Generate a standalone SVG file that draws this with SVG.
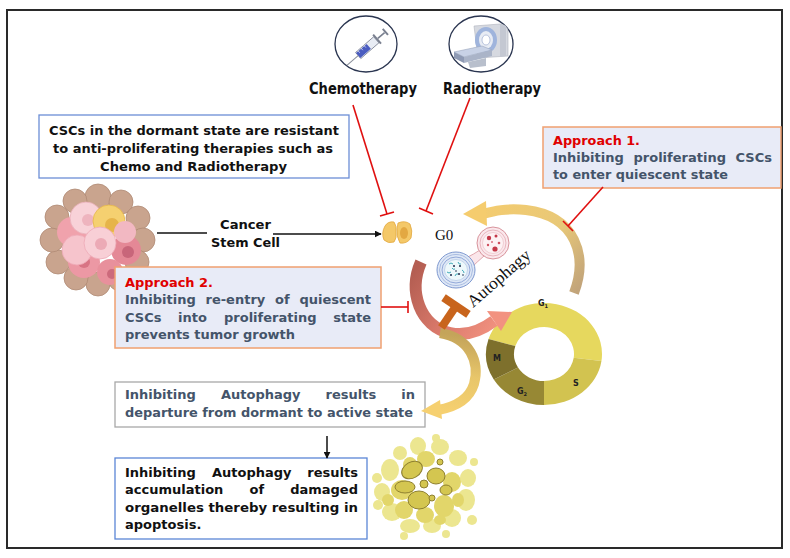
<svg xmlns="http://www.w3.org/2000/svg" width="790" height="558" viewBox="0 0 790 558">
<defs>
<style>
.t{font-family:"DejaVu Sans","Liberation Sans",sans-serif;font-weight:bold;font-size:13px;}
.blk{fill:#111;}
.gry{fill:#44546a;}
.red{fill:#e00000;}
.big{font-size:15px;}
.ser{font-family:"Liberation Serif","DejaVu Serif",serif;fill:#111;}
.inh{stroke:#e01010;stroke-width:1.6;fill:none;}
.appr{fill:#e8ebf7;stroke:#f0a070;stroke-width:1.5;}
.tan{fill:#c9a48e;stroke:#b08a75;stroke-width:0.8;}
.ap1{fill:#ece690;}
.ap2{fill:#e2d66a;}
.ap3{fill:#d4c650;stroke:#8e8030;stroke-width:1;}
.lbl{font-family:"DejaVu Sans","Liberation Sans",sans-serif;font-weight:bold;font-size:8px;fill:#222;}
</style>
<marker id="ah" viewBox="0 0 10 10" refX="9" refY="5" markerWidth="7" markerHeight="7" orient="auto-start-reverse" markerUnits="userSpaceOnUse">
<path d="M0,0 L10,5 L0,10 Z" fill="#111"/>
</marker>
<linearGradient id="gY" gradientUnits="userSpaceOnUse" x1="574" y1="295" x2="470" y2="212">
<stop offset="0" stop-color="#c2a47a"/><stop offset="0.4" stop-color="#e8c878"/><stop offset="1" stop-color="#f5cc6e"/>
</linearGradient>
<linearGradient id="gR" gradientUnits="userSpaceOnUse" x1="420" y1="262" x2="505" y2="318">
<stop offset="0" stop-color="#b45e52"/><stop offset="0.5" stop-color="#d8786a"/><stop offset="1" stop-color="#f29280"/>
</linearGradient>
<linearGradient id="gT" gradientUnits="userSpaceOnUse" x1="442" y1="333" x2="430" y2="410">
<stop offset="0" stop-color="#c4a45a"/><stop offset="0.5" stop-color="#e8c66a"/><stop offset="1" stop-color="#f6d070"/>
</linearGradient>
</defs>
<rect x="0" y="0" width="790" height="558" fill="#ffffff"/>
<rect x="7" y="10" width="775" height="538" fill="none" stroke="#2a2a2a" stroke-width="2"/>

<!-- Chemotherapy icon -->
<g id="chemotherapy">
<ellipse cx="366" cy="44" rx="31" ry="28" fill="#fff" stroke="#2a3550" stroke-width="1.3"/>
<g transform="translate(368,47) rotate(-41)">
<line x1="-28" y1="0" x2="-13" y2="0" stroke="#8a8f9a" stroke-width="1"/>
<rect x="-13" y="-4" width="24" height="8" fill="#e8ecf4" stroke="#7a8090" stroke-width="0.8"/>
<rect x="-13" y="-3.2" width="14" height="6.4" fill="#4a5cc0"/>
<line x1="-10" y1="-4" x2="-10" y2="-1" stroke="#fff" stroke-width="0.6"/>
<line x1="-6" y1="-4" x2="-6" y2="-1" stroke="#fff" stroke-width="0.6"/>
<line x1="-2" y1="-4" x2="-2" y2="-1" stroke="#fff" stroke-width="0.6"/>
<rect x="11" y="-6" width="2" height="12" fill="#7a8090"/>
<line x1="13" y1="0" x2="22" y2="0" stroke="#7a8090" stroke-width="1.6"/>
<rect x="22" y="-4" width="2" height="8" fill="#7a8090"/>
</g>
</g>

<!-- Radiotherapy icon -->
<g id="radiotherapy">
<ellipse cx="481" cy="44" rx="32" ry="28" fill="#fff" stroke="#2a3550" stroke-width="1.3"/>
<path d="M474,26 L500,24 Q508,25 508,32 L508,56 L478,58 Z" fill="#d6d9e0" stroke="#b0b4be" stroke-width="0.6"/>
<path d="M500,24 L506,26 L506,56 L500,57 Z" fill="#c4c8d2"/>
<ellipse cx="486" cy="40" rx="11" ry="13" fill="#9fb4dc"/>
<ellipse cx="486" cy="40" rx="7" ry="9" fill="#e8ecf4"/>
<ellipse cx="486" cy="40" rx="4" ry="5" fill="#ffffff" stroke="#8ea0c8" stroke-width="0.6"/>
<path d="M454,52 L482,46 L492,50 L464,57 Z" fill="#c8d2e6" stroke="#9aa6be" stroke-width="0.6"/>
<path d="M454,52 L464,57 L464,63 L454,58 Z" fill="#8e9ab4"/>
<path d="M464,57 L492,50 L492,56 L464,63 Z" fill="#aab4c8"/>
<path d="M468,62 L486,58 L486,66 L470,68 Z" fill="#b8bfcc"/>
</g>

<text class="t blk big" x="363" y="94" text-anchor="middle" textLength="108" lengthAdjust="spacingAndGlyphs">Chemotherapy</text>
<text class="t blk big" x="492" y="94" text-anchor="middle" textLength="98" lengthAdjust="spacingAndGlyphs">Radiotherapy</text>

<!-- Box 1 -->
<g id="box-resistant">
<rect x="39" y="115" width="310" height="63" fill="#fff" stroke="#6c8ed6" stroke-width="1.3"/>
<text class="t blk" x="194" y="135" text-anchor="middle" textLength="290" lengthAdjust="spacingAndGlyphs">CSCs in the dormant state are resistant</text>
<text class="t blk" x="193" y="153" text-anchor="middle" textLength="280" lengthAdjust="spacingAndGlyphs">to anti-proliferating therapies such as</text>
<text class="t blk" x="193.5" y="171" text-anchor="middle" textLength="187" lengthAdjust="spacingAndGlyphs">Chemo and Radiotherapy</text>
</g>

<!-- Tumor cluster -->
<g id="tumor">
<circle class="tan" cx="98" cy="197" r="13"/>
<circle class="tan" cx="121" cy="202" r="12"/>
<circle class="tan" cx="138" cy="218" r="12"/>
<circle class="tan" cx="143" cy="240" r="12"/>
<circle class="tan" cx="137" cy="262" r="12"/>
<circle class="tan" cx="120" cy="279" r="12"/>
<circle class="tan" cx="98" cy="284" r="12"/>
<circle class="tan" cx="76" cy="278" r="12"/>
<circle class="tan" cx="58" cy="262" r="12"/>
<circle class="tan" cx="52" cy="240" r="12"/>
<circle class="tan" cx="57" cy="217" r="12"/>
<circle class="tan" cx="75" cy="201" r="12"/>
<circle cx="72" cy="232" r="15" fill="#f0a2ac"/>
<circle cx="84" cy="262" r="16" fill="#ec98a4"/>
<circle cx="84" cy="262" r="6" fill="#d87484"/>
<circle cx="126" cy="250" r="15" fill="#e48896"/>
<circle cx="128" cy="252" r="6" fill="#c8667a"/>
<circle cx="110" cy="272" r="13" fill="#e8909c"/>
<circle cx="112" cy="274" r="5" fill="#cc6a7c"/>
<circle cx="86" cy="218" r="16" fill="#f8d2d8" stroke="#eab0ba" stroke-width="0.8"/>
<circle cx="88" cy="220" r="6" fill="#eeb4be"/>
<circle cx="109" cy="221" r="16" fill="#f5d070" stroke="#e6b84a" stroke-width="0.8"/>
<circle cx="112" cy="225" r="7" fill="#e6b44a"/>
<circle cx="77" cy="250" r="15" fill="#f6c4cc" stroke="#eeaab6" stroke-width="0.8"/>
<circle cx="100" cy="243" r="16" fill="#f8cfd6" stroke="#eeaab6" stroke-width="0.8"/>
<circle cx="101" cy="244" r="6" fill="#ecaab6"/>
<circle cx="125" cy="232" r="11" fill="#f2b8c2"/>
</g>

<!-- Cancer stem cell label -->
<g id="csc-label">
<text class="t blk" x="245.5" y="229" text-anchor="middle" textLength="51" lengthAdjust="spacingAndGlyphs">Cancer</text>
<text class="t blk" x="245.5" y="247" text-anchor="middle" textLength="69" lengthAdjust="spacingAndGlyphs">Stem Cell</text>
</g>

<!-- Quiescent cell -->
<g id="quiescent-cell">
<path d="M385,226 Q388,221 394,222 Q397,226 396,232 Q397,238 394,242 Q388,244 384,240 Q381,233 385,226 Z" fill="#f4c868" stroke="#e2a840" stroke-width="0.8"/>
<path d="M398,223 Q405,220 410,224 Q413,231 411,238 Q407,244 400,243 Q396,236 397,229 Z" fill="#f4c868" stroke="#e2a840" stroke-width="0.8"/>
<ellipse cx="404" cy="233" rx="4" ry="6" fill="#e3a842"/>
</g>

<!-- Approach 2 -->
<g id="approach2">
<rect class="appr" x="115" y="267" width="266" height="81"/>
<text class="t red" x="125" y="287" textLength="88" lengthAdjust="spacingAndGlyphs">Approach 2.</text>
<text class="t gry" x="125" y="304">Inhibiting</text>
<text class="t gry" x="205.5" y="304">re-entry</text>
<text class="t gry" x="275" y="304">of</text>
<text class="t gry" x="371" y="304" text-anchor="end">quiescent</text>
<text class="t gry" x="125" y="322">CSCs</text>
<text class="t gry" x="178" y="322">into</text>
<text class="t gry" x="224" y="322">proliferating</text>
<text class="t gry" x="371" y="322" text-anchor="end">state</text>
<text class="t gry" x="125" y="339" textLength="170" lengthAdjust="spacingAndGlyphs">prevents tumor growth</text>
</g>

<!-- Approach 1 -->
<g id="approach1">
<rect class="appr" x="543" y="127" width="238" height="61"/>
<text class="t red" x="553" y="145" textLength="87" lengthAdjust="spacingAndGlyphs">Approach 1.</text>
<text class="t gry" x="553" y="162">Inhibiting</text>
<text class="t gry" x="633.5" y="162">proliferating</text>
<text class="t gry" x="772" y="162" text-anchor="end">CSCs</text>
<text class="t gry" x="553" y="179" textLength="175" lengthAdjust="spacingAndGlyphs">to enter quiescent state</text>
</g>

<!-- Cell cycle ring -->
<g id="cell-cycle">
<path d="M488.53,339.09 A58,51 0 0 1 601.44,361.10 L573.71,357.76 A30,27 0 0 0 515.31,346.11 Z" fill="#e6d85e"/>
<path d="M601.44,361.10 A58,51 0 0 1 544,405 L544,381 A30,27 0 0 0 573.71,357.76 Z" fill="#d2c350"/>
<path d="M544,405 A58,51 0 0 1 493.77,379.5 L518.02,367.5 A30,27 0 0 0 544,381 Z" fill="#978834"/>
<path d="M493.77,379.5 A58,51 0 0 1 488.53,339.09 L515.31,346.11 A30,27 0 0 0 518.02,367.5 Z" fill="#7e702c"/>
<text class="lbl" x="543" y="306" text-anchor="middle">G<tspan font-size="5" dy="2">1</tspan></text>
<text class="lbl" x="576" y="386" text-anchor="middle">S</text>
<text class="lbl" x="522" y="394" text-anchor="middle">G<tspan font-size="5" dy="2">2</tspan></text>
<text class="lbl" x="497" y="361" text-anchor="middle">M</text>
</g>

<!-- Autophagy vesicles -->
<g id="autophagy">
<path d="M466,258 Q474,254 480,250 L484,256 Q477,262 471,268 Z" fill="#fbe6ea" stroke="#d8949c" stroke-width="0.8"/>
<ellipse cx="493" cy="243" rx="16" ry="16" fill="#fbe8ec" stroke="#d8949c" stroke-width="1"/>
<ellipse cx="493" cy="243" rx="13" ry="13" fill="none" stroke="#e2aab2" stroke-width="0.8"/>
<ellipse cx="493" cy="243" rx="10.5" ry="10.5" fill="#fdf2f4" stroke="#e8b8be" stroke-width="0.6"/>
<circle cx="489" cy="238" r="2.2" fill="#c43848"/>
<circle cx="496" cy="236" r="1.5" fill="#c43848"/>
<circle cx="499" cy="243" r="1.3" fill="#d05060"/>
<circle cx="488" cy="245" r="1.2" fill="#d05060"/>
<circle cx="495" cy="249" r="2.6" fill="#c43848"/>
<circle cx="492" cy="242" r="1" fill="#d87080"/>
<ellipse cx="456" cy="270" rx="19" ry="18" fill="#dfe8f6" stroke="#7e98d0" stroke-width="1"/>
<ellipse cx="456" cy="270" rx="16.5" ry="15.5" fill="none" stroke="#9ab0dc" stroke-width="0.8"/>
<ellipse cx="456" cy="270" rx="14" ry="13" fill="none" stroke="#7e98d0" stroke-width="0.8"/>
<ellipse cx="456" cy="270" rx="11.5" ry="10.5" fill="#eef8fb" stroke="#aac0e0" stroke-width="0.6"/>
<path d="M449,264 q2,-2 4,0 M458,262 q1,3 3,2 M447,272 q2,2 4,0 M455,276 q1,-3 3,-2 M462,270 q2,1 2,3 M452,268 q1,2 3,1" stroke="#2aa0b0" stroke-width="0.9" fill="none"/>
<circle cx="454" cy="266" r="1" fill="#1c2a48"/>
<circle cx="460" cy="266" r="1" fill="#1c2a48"/>
<circle cx="451" cy="275" r="1" fill="#1c2a48"/>
<circle cx="459" cy="274" r="1" fill="#1c2a48"/>
<circle cx="463" cy="275" r="0.8" fill="#1c2a48"/>
<circle cx="456" cy="271" r="0.8" fill="#1c2a48"/>
</g>
<text class="ser" x="435" y="240" font-size="15">G0</text>
<text class="ser" x="0" y="0" font-size="17" transform="translate(473,308) rotate(-41)" textLength="78" lengthAdjust="spacingAndGlyphs">Autophagy</text>

<!-- Apoptotic cell -->
<g id="apoptotic-cell">
<ellipse class="ap1" cx="390" cy="470" rx="9" ry="11"/>
<ellipse class="ap1" cx="382" cy="492" rx="8" ry="9"/>
<ellipse class="ap1" cx="392" cy="512" rx="10" ry="9"/>
<ellipse class="ap1" cx="410" cy="526" rx="10" ry="7"/>
<ellipse class="ap1" cx="432" cy="526" rx="9" ry="7"/>
<ellipse class="ap1" cx="452" cy="518" rx="9" ry="9"/>
<ellipse class="ap1" cx="466" cy="500" rx="9" ry="11"/>
<ellipse class="ap1" cx="468" cy="478" rx="8" ry="9"/>
<ellipse class="ap1" cx="458" cy="458" rx="9" ry="8"/>
<ellipse class="ap1" cx="440" cy="447" rx="9" ry="8"/>
<ellipse class="ap1" cx="418" cy="446" rx="8" ry="9"/>
<ellipse class="ap1" cx="400" cy="453" rx="7" ry="7"/>
<circle class="ap1" cx="377" cy="478" r="5"/>
<circle class="ap1" cx="378" cy="505" r="5"/>
<circle class="ap1" cx="472" cy="520" r="5"/>
<circle class="ap1" cx="436" cy="438" r="4"/>
<circle class="ap1" cx="474" cy="462" r="4"/>
<circle class="ap1" cx="404" cy="536" r="4"/>
<circle class="ap1" cx="446" cy="534" r="4"/>
<ellipse class="ap2" cx="402" cy="490" rx="11" ry="10"/>
<ellipse class="ap2" cx="404" cy="510" rx="9" ry="9"/>
<ellipse class="ap2" cx="444" cy="506" rx="10" ry="11"/>
<ellipse class="ap2" cx="452" cy="482" rx="9" ry="10"/>
<ellipse class="ap2" cx="426" cy="459" rx="9" ry="8"/>
<ellipse class="ap2" cx="425" cy="515" rx="9" ry="8"/>
<ellipse class="ap2" cx="410" cy="465" rx="7" ry="8"/>
<ellipse class="ap2" cx="388" cy="500" rx="6" ry="6"/>
<ellipse class="ap2" cx="458" cy="500" rx="6" ry="7"/>
<ellipse class="ap2" cx="440" cy="520" rx="6" ry="5"/>
<ellipse class="ap3" cx="412" cy="470" rx="11" ry="8" transform="rotate(-30 412 470)"/>
<ellipse class="ap3" cx="405" cy="487" rx="10" ry="6"/>
<ellipse class="ap3" cx="419" cy="500" rx="11" ry="9"/>
<ellipse class="ap3" cx="436" cy="476" rx="9" ry="8"/>
<ellipse class="ap3" cx="446" cy="490" rx="6" ry="5"/>
<circle class="ap3" cx="440" cy="462" r="3"/>
<circle class="ap3" cx="432" cy="498" r="3"/>
<circle class="ap3" cx="424" cy="484" r="4"/>
</g>

<!-- Bottom box 1 -->
<g id="box-departure">
<rect x="115" y="382" width="310" height="45" fill="#fff" stroke="#a8a8a8" stroke-width="1.3"/>
<text class="t gry" x="125" y="399">Inhibiting</text>
<text class="t gry" x="221" y="399">Autophagy</text>
<text class="t gry" x="325.5" y="399">results</text>
<text class="t gry" x="415" y="399" text-anchor="end">in</text>
<text class="t gry" x="125" y="417" textLength="288" lengthAdjust="spacingAndGlyphs">departure from dormant to active state</text>
</g>

<!-- Bottom box 2 -->
<g id="box-apoptosis">
<rect x="115" y="458" width="252" height="81" fill="#fff" stroke="#5b86d6" stroke-width="1.3"/>
<text class="t blk" x="125" y="477">Inhibiting</text>
<text class="t blk" x="212" y="477">Autophagy</text>
<text class="t blk" x="358" y="477" text-anchor="end">results</text>
<text class="t blk" x="125" y="494">accumulation</text>
<text class="t blk" x="249.5" y="494">of</text>
<text class="t blk" x="358" y="494" text-anchor="end">damaged</text>
<text class="t blk" x="125" y="512" textLength="233" lengthAdjust="spacingAndGlyphs">organelles thereby resulting in</text>
<text class="t blk" x="125" y="529">apoptosis.</text>
</g>

<!-- Connectors -->
<g id="connectors">
<path d="M574,293 C588,256 576,216 526,210 C506,208 494,211 483,214" fill="none" stroke="url(#gY)" stroke-width="10"/>
<path d="M486,201 L463,214 L487,226 Z" fill="#f5cc6e"/>
<path d="M421,262 C408,292 420,326 450,333 C468,337 482,330 494,321" fill="none" stroke="url(#gR)" stroke-width="12"/>
<path d="M487,311 L512,312 L501,331 Z" fill="#f29280"/>
<path d="M440,333 C470,338 480,362 474,384 C469,400 455,407 438,410" fill="none" stroke="url(#gT)" stroke-width="10"/>
<path d="M440,400 L421,411 L442,419 Z" fill="#f6d070"/>
<g transform="translate(456,306) rotate(34)">
<rect x="-15" y="-4" width="30" height="8" fill="#c8641c"/>
<rect x="-4" y="0" width="8" height="26" fill="#c8641c"/>
</g>
<line class="inh" x1="353" y1="105" x2="387" y2="214"/>
<line class="inh" x1="380" y1="216" x2="394" y2="212"/>
<line class="inh" x1="470" y1="98" x2="426" y2="211"/>
<line class="inh" x1="419" y1="208" x2="433" y2="214"/>
<line class="inh" x1="603" y1="187" x2="568" y2="226"/>
<line class="inh" x1="563" y1="221" x2="573" y2="231"/>
<line class="inh" x1="381" y1="307" x2="408" y2="307"/>
<line class="inh" x1="408" y1="301" x2="408" y2="313"/>
<line x1="157" y1="233" x2="207" y2="233" stroke="#111" stroke-width="1.5"/>
<line x1="273" y1="234" x2="381" y2="234" stroke="#111" stroke-width="1.5" marker-end="url(#ah)"/>
<line x1="327" y1="436" x2="327" y2="458" stroke="#111" stroke-width="1.5" marker-end="url(#ah)"/>
</g>
</svg>
